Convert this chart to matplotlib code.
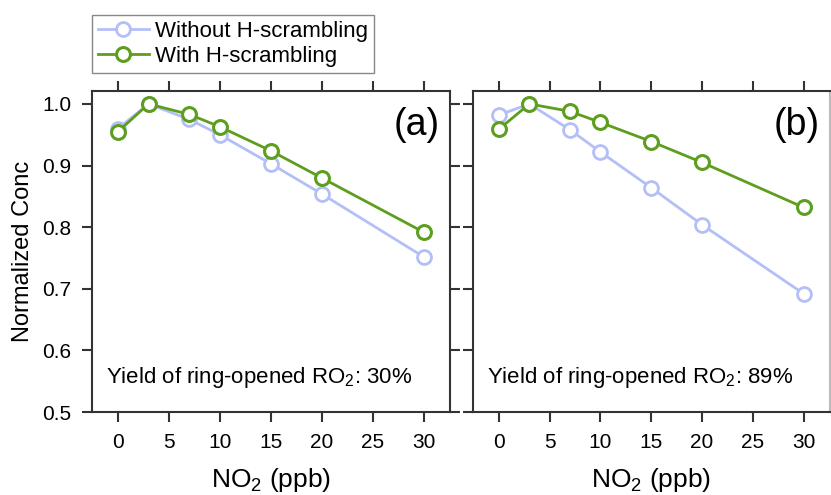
import numpy as np
import matplotlib
matplotlib.use("Agg")
import matplotlib.pyplot as plt

plt.rcParams['font.family'] = ['Liberation Sans', 'DejaVu Sans']
plt.rcParams['mathtext.fontset'] = 'custom'
plt.rcParams['mathtext.rm'] = 'Liberation Sans'
plt.rcParams['mathtext.it'] = 'Liberation Sans:italic'

no2 = [0, 3, 7, 10, 15, 20, 30]
without_a = [0.960, 1.000, 0.975, 0.950, 0.903, 0.854, 0.752]
with_a = [0.955, 1.000, 0.983, 0.963, 0.924, 0.880, 0.792]
without_b = [0.982, 1.000, 0.958, 0.922, 0.864, 0.804, 0.692]
with_b = [0.959, 1.000, 0.988, 0.970, 0.939, 0.905, 0.832]
panel_tags = ["(a)", "(b)"]
yields = ["30%", "89%"]

blue = "#b3bff7"
green = "#5e9e1e"
spine_col = "#333333"

fig = plt.figure(figsize=(8.31, 4.95), dpi=100)
ax_a = fig.add_axes([92/831, 1-412/495, 358/831, 321/495])
ax_b = fig.add_axes([473/831, 1-412/495, 357/831, 321/495])

data = [(without_a, with_a), (without_b, with_b)]
for i, ax in enumerate([ax_a, ax_b]):
    wo, w = data[i]
    l1, = ax.plot(no2, wo, "o-", color=blue, lw=2, ms=10, mfc="white",
                  mec=blue, mew=2, label="Without H-scrambling", zorder=2)
    l2, = ax.plot(no2, w, "o-", color=green, lw=2, ms=10, mfc="white",
                  mec=green, mew=2.2, label="With H-scrambling", zorder=3)
    ax.set_xlim(-2.55, 32.6)
    ax.set_ylim(0.5, 1.021)
    ax.set_xticks([0, 5, 10, 15, 20, 25, 30])
    ax.set_yticks([0.5, 0.6, 0.7, 0.8, 0.9, 1.0])
    ax.tick_params(direction="out", length=7, width=1.5, color=spine_col,
                   labelsize=15, top=True, right=True)
    ax.tick_params(axis="x", pad=8)
    ax.tick_params(axis="y", pad=8)
    for s in ax.spines.values():
        s.set_linewidth(1.5)
        s.set_color(spine_col)
    ax.set_xlabel(r"NO$_\mathregular{2}$ (ppb)", fontsize=19, labelpad=10)
    ax.text(0.97, 0.95, panel_tags[i], transform=ax.transAxes, fontsize=27,
            ha="right", va="top")
    ax.text(0.04, 0.07, r"Yield of ring-opened RO$_\mathregular{2}$: " + yields[i],
            transform=ax.transAxes, fontsize=16, ha="left", va="bottom")

ax_a.yaxis.set_major_formatter(matplotlib.ticker.FormatStrFormatter("%.1f"))
ax_a.set_ylabel("Normalized Conc", fontsize=17, labelpad=6)
ax_b.tick_params(labelleft=False)
ax_b.spines["right"].set_color("#bbbbbb")

fig.legend(handles=[l1, l2], loc="upper left",
           bbox_to_anchor=(92/831, 1-15/495), fontsize=16,
           fancybox=False, edgecolor="#888888", framealpha=1,
           borderaxespad=0, handlelength=2.3, handletextpad=0.3,
           borderpad=0.25, labelspacing=0.2)

fig.savefig("out.png", dpi=100)
